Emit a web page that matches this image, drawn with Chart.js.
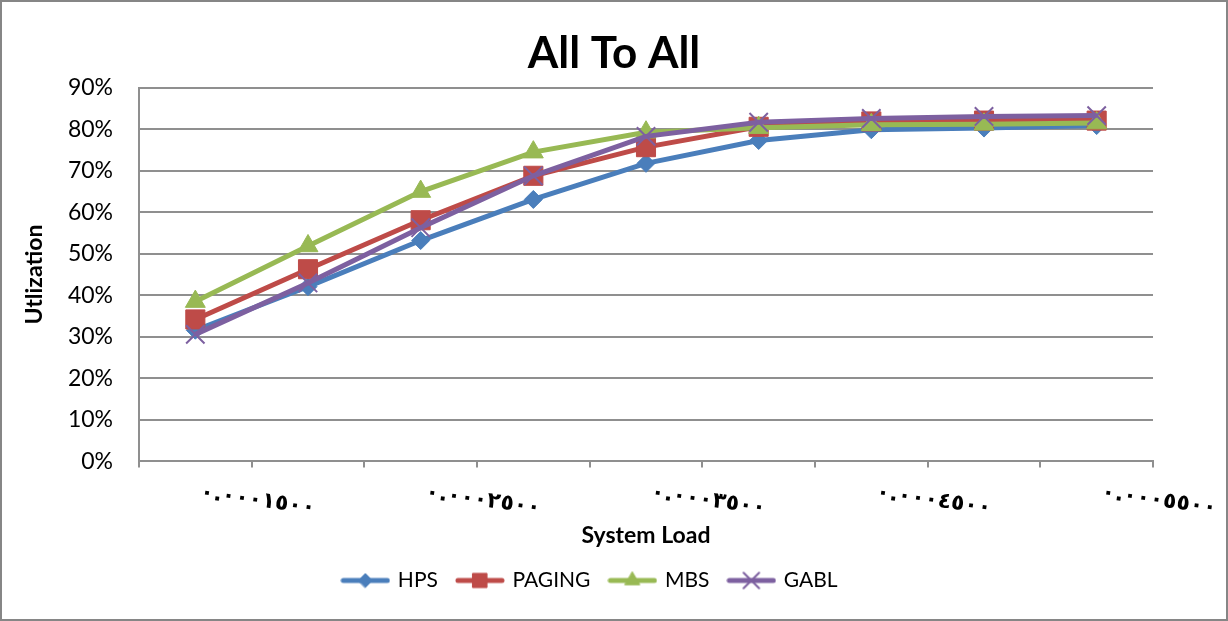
<!DOCTYPE html>
<html><head><meta charset="utf-8">
<script src="https://cdn.jsdelivr.net/npm/chart.js@4.4.1/dist/chart.umd.min.js"></script>
<style>html,body{margin:0;padding:0;background:#fff;overflow:hidden}</style>
</head><body>
<canvas id="c" width="1228" height="621" style="display:block;width:1228px;height:621px"></canvas>
<script>
// ---- data ----
const categories = ['٠.٠٠٠١٥٠٠','٠.٠٠٠٢٠٠٠','٠.٠٠٠٢٥٠٠','٠.٠٠٠٣٠٠٠','٠.٠٠٠٣٥٠٠','٠.٠٠٠٤٠٠٠','٠.٠٠٠٤٥٠٠','٠.٠٠٠٥٠٠٠','٠.٠٠٠٥٥٠٠'];
const xTickLabels = ['٠.٠٠٠١٥٠٠','','٠.٠٠٠٢٥٠٠','','٠.٠٠٠٣٥٠٠','','٠.٠٠٠٤٥٠٠','','٠.٠٠٠٥٥٠٠'];
const hps    = [31.6, 42.1, 53.2, 63.1, 71.8, 77.3, 79.9, 80.3, 80.9];
const paging = [34.2, 46.3, 58.1, 68.8, 75.7, 80.6, 81.9, 82.1, 82.1];
const mbs    = [38.5, 51.9, 65.0, 74.5, 79.3, 80.4, 81.1, 81.2, 81.5];
const gabl   = [30.6, 43.0, 56.3, 68.8, 78.3, 81.7, 82.6, 83.1, 83.3];
const yTicks = [0, 10, 20, 30, 40, 50, 60, 70, 80, 90];

const FONT = 'Lato';
const GRID = '#8f8f8f';

function legendIcon(color, style, radius, bw) {
  const cv = document.createElement('canvas');
  cv.width = 50; cv.height = 24;
  const g = cv.getContext('2d');
  g.strokeStyle = color; g.fillStyle = color; g.lineCap = 'round';
  g.lineWidth = 5;
  g.beginPath(); g.moveTo(3, 12); g.lineTo(47, 12); g.stroke();
  g.lineWidth = bw;
  Chart.helpers.drawPoint(g, {pointStyle: style, radius: radius, borderWidth: bw, rotation: 0}, 25, 12);
  return cv;
}

const series = [
  {label: 'HPS',    data: hps,    color: '#4A7EBB', style: 'rectRot',  r: 9,    bw: 1, lr: 7,  order: 4},
  {label: 'PAGING', data: paging, color: '#BE4B48', style: 'rect',     r: 13.5, bw: 1, lr: 10, order: 3},
  {label: 'MBS',    data: mbs,    color: '#98B954', style: 'triangle', r: 11.5, bw: 1, lr: 8.5, order: 2},
  {label: 'GABL',   data: gabl,   color: '#7D60A0', style: 'crossRot', r: 13,   bw: 2, lr: 11, order: 1}
];
const icons = series.map(s => legendIcon(s.color, s.style, s.lr, s.bw));

const bgPlugin = {
  id: 'bg',
  beforeDraw(chart) {
    const ctx = chart.ctx;
    ctx.save();
    ctx.fillStyle = '#fff';
    ctx.fillRect(0, 0, chart.width, chart.height);
    ctx.strokeStyle = '#868686'; ctx.lineWidth = 2;
    ctx.strokeRect(1, 1, chart.width - 2, chart.height - 2);
    ctx.restore();
  }
};
const boxShift = {
  id: 'boxShift',
  afterLayout(chart) {
    const lg = chart.legend;
    lg.left += 10; lg.right += 10;
    const tb = chart.titleBlock;
    tb.left = 0; tb.right = chart.width;
  }
};
const xLabels = {
  id: 'xLabels',
  afterDraw(chart) {
    const xs = chart.scales.x, ctx = chart.ctx;
    ctx.save();
    ctx.font = 'bold 22px "DejaVu Sans"';
    ctx.fillStyle = '#000'; ctx.textAlign = 'left'; ctx.textBaseline = 'middle';
    xTickLabels.forEach((t, i) => {
      if (!t) return;
      ctx.save();
      ctx.translate(xs.getPixelForValue(i) + 5, chart.chartArea.bottom + 31);
      ctx.rotate(8 * Math.PI / 180);
      ctx.fillText(t, 0, 0);
      ctx.restore();
    });
    ctx.restore();
  }
};

new Chart(document.getElementById('c'), {
  type: 'line',
  data: {
    labels: categories,
    datasets: series.map(s => ({
      label: s.label, data: s.data, order: s.order,
      borderColor: s.color, backgroundColor: s.color,
      borderWidth: 5, tension: 0,
      pointStyle: s.style, pointRadius: s.r, pointBorderWidth: s.bw,
      pointBackgroundColor: s.color, pointBorderColor: s.color
    }))
  },
  plugins: [bgPlugin, boxShift, xLabels],
  options: {
    responsive: false, animation: false,
    layout: {padding: {left: 8, right: 75, top: 10, bottom: 20}},
    plugins: {
      title: {display: true, text: 'All To All', color: '#000',
        font: {family: FONT, size: 44, weight: 'bold'}, padding: {top: 17, bottom: 8}},
      legend: {position: 'bottom',
        labels: {usePointStyle: true, pointStyleWidth: 44, padding: 20, color: '#000',
          font: {family: FONT, size: 21},
          sort: (a, b) => a.datasetIndex - b.datasetIndex,
          generateLabels(chart) {
            const items = Chart.defaults.plugins.legend.labels.generateLabels(chart);
            items.forEach(it => { it.pointStyle = icons[it.datasetIndex]; });
            return items;
          }}},
      tooltip: {enabled: false}
    },
    scales: {
      x: {type: 'category', offset: true,
        ticks: {display: false},
        grid: {offset: true, drawOnChartArea: false, drawTicks: true, tickLength: 6, color: GRID, lineWidth: 2},
        border: {display: true, color: GRID, width: 2},
        title: {display: true, text: 'System Load', color: '#000',
          font: {family: FONT, size: 23, weight: 'bold'}, padding: {top: 54, bottom: 1}}},
      y: {min: 0, max: 90,
        afterBuildTicks(scale) { scale.ticks = yTicks.map(v => ({value: v})); },
        afterFit(scale) { scale.width = 131; },
        ticks: {callback: v => v + '%', color: '#000', padding: 26, font: {family: FONT, size: 23}},
        grid: {drawTicks: false, color: GRID, lineWidth: 2},
        border: {display: true, color: GRID, width: 2},
        title: {display: true, text: 'Utlization', color: '#000',
          font: {family: FONT, size: 23, weight: 'bold'}, padding: {top: 13, bottom: 0}}}
    }
  }
});
</script>
</body></html>
